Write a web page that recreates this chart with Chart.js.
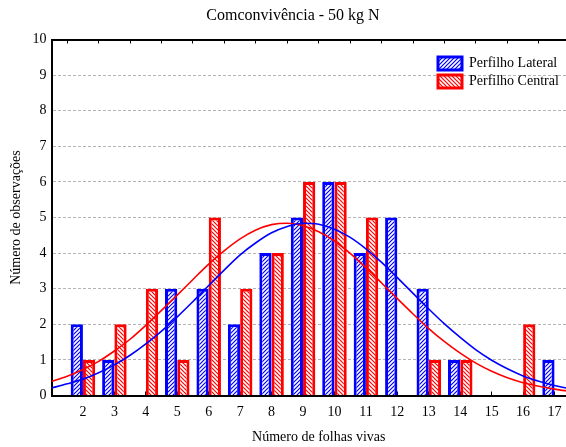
<!DOCTYPE html>
<html lang="pt">
<head>
<meta charset="utf-8">
<title>Comconvivência - 50 kg N</title>
<script src="https://cdn.jsdelivr.net/npm/chart.js@4.4.1/dist/chart.umd.min.js"></script>
<style>
    html, body { margin: 0; padding: 0; background: #fff; }
    body { width: 566px; height: 447px; overflow: hidden; }
    #wrap { width: 600px; height: 447px; }
</style>
</head>
<body>
<div id="wrap"><canvas id="myChart" width="600" height="447"></canvas></div>
<script>
// Número de folhas vivas (classes do histograma)
const classes = [2, 3, 4, 5, 6, 7, 8, 9, 10, 11, 12, 13, 14, 15, 16, 17];
// Número de observações por classe
const perfilhoLateral = [2, 1, 0, 3, 3, 2, 4, 5, 6, 4, 5, 3, 1, 0, 0, 1];
const perfilhoCentral = [1, 2, 3, 1, 5, 3, 4, 6, 6, 5, 0, 1, 1, 0, 2, 0];

// Curvas normais ajustadas
const curvaX = [1, 1.5, 2, 2.5, 3, 3.5, 4, 4.5, 5, 5.5, 6, 6.5, 7, 7.5, 8, 8.5, 9, 9.5,
    10, 10.5, 11, 11.5, 12, 12.5, 13, 13.5, 14, 14.5, 15, 15.5, 16, 16.5, 17, 17.5, 18];
const curvaLateral = [0.21, 0.33, 0.46, 0.64, 0.86, 1.13, 1.45, 1.81, 2.21, 2.64, 3.09, 3.53,
    3.95, 4.29, 4.57, 4.75, 4.84, 4.81, 4.67, 4.44, 4.12, 3.74, 3.31, 2.87, 2.43, 2.01,
    1.63, 1.28, 0.99, 0.75, 0.55, 0.40, 0.28, 0.19, 0.13];
const curvaCentral = [0.40, 0.54, 0.73, 0.96, 1.25, 1.58, 1.97, 2.39, 2.82, 3.26, 3.69, 4.07,
    4.40, 4.65, 4.80, 4.84, 4.77, 4.60, 4.34, 3.99, 3.59, 3.16, 2.72, 2.29, 1.88, 1.51,
    1.19, 0.91, 0.68, 0.50, 0.36, 0.26, 0.18, 0.12, 0.08];

const yTicks = [0, 1, 2, 3, 4, 5, 6, 7, 8, 9, 10];

const AZUL = '#0000ff';
const VERMELHO = '#ff0000';
const FONTE = "'Liberation Serif', 'Times New Roman', serif";

// hachura diagonal: '/' para o lateral, '\' para o central
function hatch(color, forward) {
    const c = document.createElement('canvas');
    c.width = 4;
    c.height = 4;
    const g = c.getContext('2d');
    g.fillStyle = '#fff';
    g.fillRect(0, 0, 4, 4);
    g.strokeStyle = color;
    g.lineWidth = 1.2;
    g.beginPath();
    if (forward) {
        g.moveTo(-1, 5); g.lineTo(5, -1);
        g.moveTo(-1, 1); g.lineTo(1, -1);
        g.moveTo(3, 5); g.lineTo(5, 3);
    } else {
        g.moveTo(-1, -1); g.lineTo(5, 5);
        g.moveTo(-1, 3); g.lineTo(1, 5);
        g.moveTo(3, -1); g.lineTo(5, 1);
    }
    g.stroke();
    return g.createPattern(c, 'repeat');
}

function toPoints(xs, ys) {
    return xs.map((x, i) => ({ x: x, y: ys[i] ? ys[i] : null }));
}

// move a legenda para o canto superior direito da área do gráfico
const legendaDireita = {
    id: 'legendaDireita',
    afterLayout(chart) {
        const area = chart.chartArea;
        chart.legend.left = area.right - 152;
        chart.legend.top = area.top + 13;
    }
};

function renderChart() {
    const ctx = document.getElementById('myChart').getContext('2d');
    new Chart(ctx, {
        type: 'bar',
        data: {
            datasets: [
                {
                    type: 'line',
                    label: 'ajuste lateral',
                    data: toPoints(curvaX, curvaLateral),
                    borderColor: AZUL,
                    borderWidth: 1.6,
                    pointRadius: 0,
                    cubicInterpolationMode: 'monotone',
                    fill: false,
                    order: 0
                },
                {
                    type: 'line',
                    label: 'ajuste central',
                    data: toPoints(curvaX, curvaCentral),
                    borderColor: VERMELHO,
                    borderWidth: 1.6,
                    pointRadius: 0,
                    cubicInterpolationMode: 'monotone',
                    fill: false,
                    order: 0
                },
                {
                    label: 'Perfilho Lateral',
                    data: toPoints(classes, perfilhoLateral),
                    backgroundColor: hatch(AZUL, true),
                    borderColor: AZUL,
                    borderWidth: 3,
                    categoryPercentage: 0.78,
                    barPercentage: 1.0,
                    order: 1
                },
                {
                    label: 'Perfilho Central',
                    data: toPoints(classes, perfilhoCentral),
                    backgroundColor: hatch(VERMELHO, false),
                    borderColor: VERMELHO,
                    borderWidth: 3,
                    categoryPercentage: 0.78,
                    barPercentage: 1.0,
                    order: 1
                }
            ]
        },
        options: {
            responsive: false,
            animation: false,
            devicePixelRatio: 1,
            layout: { padding: { left: 0, right: 14, top: 0, bottom: 0 } },
            scales: {
                x: {
                    type: 'linear',
                    position: 'bottom',
                    min: 1,
                    max: 18,
                    offset: false,
                    afterFit(axis) { axis.height = 51.5; },
                    afterBuildTicks(axis) {
                        axis.ticks = curvaX.filter(v => Number.isInteger(v)).map(v => ({ value: v }));
                    },
                    ticks: {
                        autoSkip: false,
                        maxRotation: 0,
                        padding: 12,
                        color: '#000',
                        font: { family: FONTE, size: 14 },
                        callback: v => classes.includes(v) ? String(v) : ''
                    },
                    grid: {
                        offset: false,
                        drawOnChartArea: false,
                        drawTicks: true,
                        tickLength: -4,
                        tickColor: '#000',
                        tickWidth: 1
                    },
                    border: { color: '#000', width: 2 },
                    title: {
                        display: true,
                        text: 'Número de folhas vivas',
                        color: '#000',
                        font: { family: FONTE, size: 14 },
                        padding: { top: 2, bottom: 1 }
                    }
                },
                xTopo: {
                    type: 'linear',
                    position: 'top',
                    min: 1,
                    max: 18,
                    offset: false,
                    afterFit(axis) { axis.height = 0; },
                    afterBuildTicks(axis) {
                        axis.ticks = curvaX.filter(v => Number.isInteger(v)).map(v => ({ value: v }));
                    },
                    ticks: { display: false },
                    grid: {
                        drawOnChartArea: false,
                        drawTicks: true,
                        tickLength: -4,
                        tickColor: '#000',
                        tickWidth: 1
                    },
                    border: { color: '#000', width: 2 }
                },
                y: {
                    min: 0,
                    max: 10,
                    afterFit(axis) { axis.width = 51.5; },
                    afterBuildTicks(axis) {
                        axis.ticks = yTicks.map(v => ({ value: v }));
                    },
                    ticks: {
                        padding: 5,
                        color: '#000',
                        font: { family: FONTE, size: 14 }
                    },
                    grid: {
                        drawTicks: false,
                        lineWidth: 1,
                        color: c => (c.tick && (c.tick.value === 0 || c.tick.value === 10)) ? 'rgba(0,0,0,0)' : '#b4b4b4'
                    },
                    border: { color: '#000', width: 2, dash: [3, 2] },
                    title: {
                        display: true,
                        text: 'Número de observações',
                        color: '#000',
                        font: { family: FONTE, size: 14 },
                        padding: { top: 8, bottom: 0 }
                    }
                }
            },
            plugins: {
                title: {
                    display: true,
                    text: 'Comconvivência - 50 kg N',
                    color: '#000',
                    font: { family: FONTE, size: 16, weight: 'normal' },
                    padding: { top: 6.5, bottom: 13.8 }
                },
                legend: {
                    position: 'chartArea',
                    align: 'start',
                    labels: {
                        boxWidth: 24,
                        boxHeight: 13,
                        padding: 4,
                        color: '#000',
                        font: { family: FONTE, size: 14 },
                        filter: item => item.datasetIndex >= 2
                    }
                },
                tooltip: { enabled: false }
            }
        },
        plugins: [legendaDireita]
    });
}

document.addEventListener('DOMContentLoaded', renderChart);
</script>
</body>
</html>
